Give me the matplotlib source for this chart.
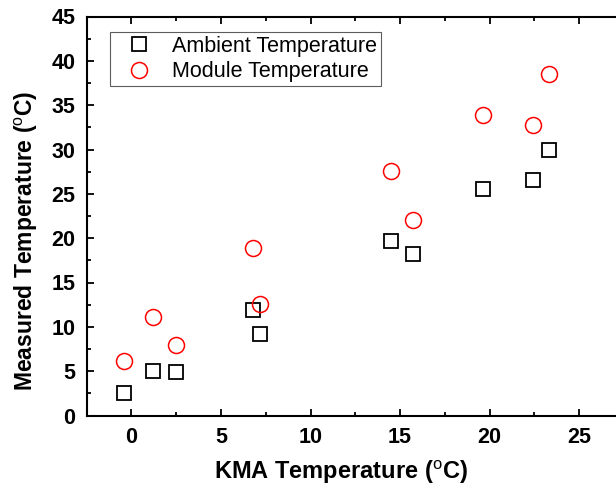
import matplotlib
matplotlib.use('Agg')
import matplotlib.pyplot as plt
from matplotlib.ticker import MultipleLocator

# values
kma = [-0.4, 1.2, 2.5, 6.8, 7.2, 14.5, 15.7, 19.6, 22.4, 23.3]
ambient = [2.5, 5.0, 4.9, 11.9, 9.2, 19.7, 18.2, 25.6, 26.6, 30.0]
module = [6.1, 11.1, 8.0, 18.9, 12.6, 27.6, 22.1, 33.9, 32.8, 38.5]
series_labels = ['Ambient Temperature', 'Module Temperature']

plt.rcParams['font.family'] = ['Liberation Sans', 'DejaVu Sans']
plt.rcParams['mathtext.fontset'] = 'custom'
plt.rcParams['mathtext.rm'] = 'Liberation Sans'

W, H = 616, 487
fig = plt.figure(figsize=(W / 100, H / 100), dpi=100)
ax = fig.add_axes([86.7 / W, 1 - 415.5 / H, (624 - 86.7) / W, (415.5 - 16.5) / H])

ax.plot(kma, ambient, ls='none', marker='s', ms=10, mfc='none', mec='black', mew=1.3,
        label=series_labels[0])
ax.plot(kma, module, ls='none', marker='o', ms=11.5, mfc='none', mec='#ff0000', mew=1.1,
        label=series_labels[1])

ax.set_xlim(-2.5, 27.5)
ax.set_ylim(0, 45)
ax.xaxis.set_major_locator(MultipleLocator(5))
ax.xaxis.set_minor_locator(MultipleLocator(2.5))
ax.yaxis.set_major_locator(MultipleLocator(5))
ax.yaxis.set_minor_locator(MultipleLocator(2.5))
ax.tick_params(which='both', direction='in', top=True, right=True, width=1.3)
ax.tick_params(which='major', length=5, pad=8, labelsize=15.5)
ax.tick_params(which='minor', length=3)
for lab in ax.get_xticklabels() + ax.get_yticklabels():
    lab.set_fontweight('bold')
for sp in ax.spines.values():
    sp.set_linewidth(1.5)

ax.set_xlabel(r'KMA Temperature ($^{\mathrm{o}}$C)', fontsize=17, fontweight='bold')
ax.set_ylabel(r'Measured Temperature ($^{\mathrm{o}}$C)', fontsize=16.5, fontweight='bold')
ax.xaxis.set_label_coords((341 - 86.7) / (624 - 86.7), -(458 - 415.5) / 399)
ax.yaxis.set_label_coords(-(86.7 - 40) / (624 - 86.7), (415.5 - 241) / 399)

leg = fig.legend(loc='upper left', bbox_to_anchor=(110 / W, 1 - 31.7 / H), borderaxespad=0,
                 fontsize=15.5, frameon=True, fancybox=False, borderpad=0.18,
                 handlelength=2.3, handletextpad=0.4, labelspacing=0.22)
leg.get_frame().set_edgecolor('#333333')
leg.get_frame().set_linewidth(0.8)

fig.savefig('out.png', dpi=100)
